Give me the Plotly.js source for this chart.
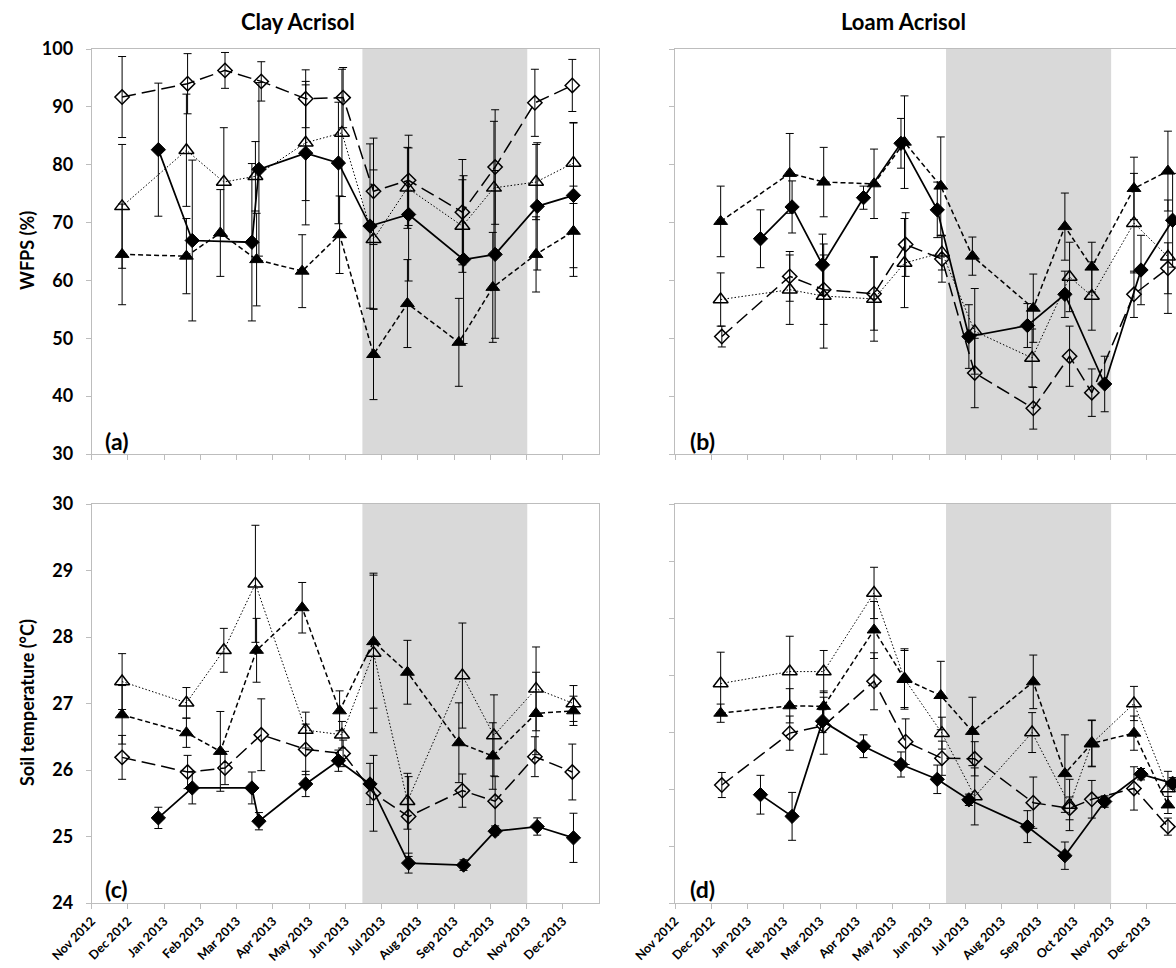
<!DOCTYPE html>
<html><head><meta charset="utf-8">
<script src="https://cdn.plot.ly/plotly-3.0.1.min.js"></script>
<style>html,body{margin:0;padding:0;background:#fff;overflow:hidden}#chart{width:1176px;height:968px}</style>
</head><body><div id="chart"></div>
<script>
// ---- axis ticks ----
const tickDates = ['2012-11-01','2012-12-02','2013-01-02','2013-02-02','2013-03-05','2013-04-05','2013-05-06','2013-06-06','2013-07-07','2013-08-07','2013-09-07','2013-10-08','2013-11-08','2013-12-09'];
const tickLabels = ['Nov 2012','Dec 2012','Jan 2013','Feb 2013','Mar 2013','Apr 2013','May 2013','Jun 2013','Jul 2013','Aug 2013','Sep 2013','Oct 2013','Nov 2013','Dec 2013'];
const shadeStart = '2013-06-20 12:00';
const shadeEnd = '2013-11-08 12:00';
const panelTitles = ['Clay Acrisol', 'Loam Acrisol'];
const panelLetters = ['(a)', '(b)', '(c)', '(d)'];
const yTitles = ['WFPS (%)', 'Soil temperature (°C)'];

// ---- Clay Acrisol sampling dates (per series) ----
const clayDatesS1 = ['2012-12-28','2013-01-26','2013-03-18','2013-03-24','2013-05-03','2013-05-31','2013-06-27','2013-07-30','2013-09-15','2013-10-12','2013-11-17','2013-12-18'];
const clayDatesS2 = ['2012-11-27','2013-01-21','2013-02-19','2013-03-22','2013-04-30','2013-06-01','2013-06-30','2013-07-29','2013-09-11','2013-10-10','2013-11-16','2013-12-18'];
const clayDatesS3 = ['2012-11-27','2013-01-21','2013-02-22','2013-03-21','2013-05-03','2013-06-03','2013-06-30','2013-07-29','2013-09-14','2013-10-11','2013-11-16','2013-12-18'];
const clayDatesS4 = ['2012-11-27','2013-01-22','2013-02-23','2013-03-26','2013-05-03','2013-06-04','2013-06-30','2013-07-30','2013-09-14','2013-10-12','2013-11-15','2013-12-17'];

// ---- Loam Acrisol sampling dates (per series) ----
const loamDatesS1 = ['2013-01-13','2013-02-09','2013-03-07','2013-04-11','2013-05-13','2013-06-13','2013-07-10','2013-08-29','2013-09-30','2013-11-03','2013-12-04','2013-12-31'];
const loamDatesS2 = ['2012-12-10','2013-02-07','2013-03-08','2013-04-20','2013-05-16','2013-06-16','2013-07-13','2013-09-03','2013-09-30','2013-10-23','2013-11-28','2013-12-27'];
const loamDatesS3 = ['2012-12-10','2013-02-07','2013-03-08','2013-04-20','2013-05-16','2013-06-17','2013-07-15','2013-09-02','2013-10-04','2013-10-23','2013-11-28','2013-12-27'];
const loamDatesS4 = ['2012-12-11','2013-02-07','2013-03-08','2013-04-20','2013-05-17','2013-06-17','2013-07-15','2013-09-03','2013-10-04','2013-10-23','2013-11-28','2013-12-27'];

// ---- (a) Clay Acrisol WFPS (%) ----
const clayWfpsS1 = [82.6, 66.9, 66.6, 79.2, 82.0, 80.3, 69.4, 71.4, 63.6, 64.5, 72.8, 74.7];
const clayWfpsS1Err = [11.5, 13.9, 13.6, 15.0, 12.4, 10.5, 14.2, 11.5, 14.5, 14.5, 11.0, 12.5];
const clayWfpsS2 = [64.5, 64.2, 68.2, 63.6, 61.6, 67.9, 47.2, 56.0, 49.3, 58.8, 64.5, 68.5];
const clayWfpsS2Err = [8.7, 6.5, 7.5, 8.0, 6.3, 6.7, 7.8, 7.6, 7.6, 9.5, 6.5, 7.8];
const clayWfpsS3 = [72.8, 82.5, 77.0, 78.0, 83.8, 85.5, 67.1, 76.0, 69.4, 76.0, 77.0, 80.3];
const clayWfpsS3Err = [10.7, 9.7, 9.4, 6.0, 10.0, 11.0, 12.0, 7.0, 8.0, 11.5, 6.5, 7.0];
const clayWfpsS4 = [91.7, 94.0, 96.3, 94.4, 91.4, 91.6, 75.4, 77.3, 71.8, 79.6, 90.7, 93.7];
const clayWfpsS4Err = [7.0, 5.2, 3.1, 3.4, 5.0, 5.2, 9.2, 7.8, 9.1, 9.9, 5.8, 4.5];

// ---- (b) Loam Acrisol WFPS (%) ----
const loamWfpsS1 = [67.2, 72.7, 62.7, 74.3, 83.7, 72.2, 50.3, 52.2, 57.6, 42.1, 61.8, 70.4];
const loamWfpsS1Err = [5.0, 4.5, 5.3, 2.0, 4.3, 4.8, 5.5, 3.8, 4.0, 4.8, 6.0, 8.1];
const loamWfpsS2 = [70.2, 78.5, 77.0, 76.7, 83.9, 76.3, 64.2, 55.2, 69.3, 62.3, 75.9, 78.9];
const loamWfpsS2Err = [6.1, 6.9, 6.0, 6.0, 8.0, 8.5, 3.3, 5.9, 5.8, 4.3, 5.4, 6.9];
const loamWfpsS3 = [56.7, 58.4, 57.3, 56.8, 63.0, 64.8, 51.2, 46.6, 60.6, 57.3, 69.9, 64.1];
const loamWfpsS3Err = [4.6, 6.0, 9.0, 7.3, 7.7, 3.0, 7.4, 5.0, 6.0, 5.9, 8.6, 9.8];
const loamWfpsS4 = [50.3, 60.7, 58.4, 57.7, 66.2, 63.7, 44.0, 37.9, 46.9, 40.6, 57.6, 62.1];
const loamWfpsS4Err = [1.8, 4.3, 6.0, 6.3, 5.5, 4.0, 6.0, 3.6, 5.2, 4.1, 4.0, 4.4];

// ---- (c) Clay Acrisol soil temperature (°C) ----
const clayTempS1 = [25.28, 25.73, 25.73, 25.23, 25.79, 26.14, 25.79, 24.60, 24.57, 25.08, 25.15, 24.98];
const clayTempS1Err = [0.16, 0.24, 0.24, 0.13, 0.19, 0.16, 0.31, 0.15, 0.08, 0.06, 0.13, 0.37];
const clayTempS2 = [26.83, 26.56, 26.28, 27.80, 28.44, 26.89, 27.93, 27.47, 26.41, 26.21, 26.85, 26.89];
const clayTempS2Err = [0.44, 0.22, 0.60, 0.48, 0.38, 0.30, 1.00, 0.48, 0.60, 0.50, 0.62, 0.22];
const clayTempS3 = [27.33, 27.01, 27.80, 28.80, 26.60, 26.53, 27.76, 25.53, 27.42, 26.52, 27.22, 27.00];
const clayTempS3Err = [0.42, 0.23, 0.33, 0.88, 0.27, 0.20, 1.20, 0.42, 0.79, 0.61, 0.63, 0.27];
const clayTempS4 = [26.19, 25.97, 26.03, 26.53, 26.31, 26.25, 25.65, 25.30, 25.69, 25.53, 26.20, 25.97];
const clayTempS4Err = [0.33, 0.25, 0.25, 0.54, 0.38, 0.20, 0.57, 0.60, 0.25, 0.37, 0.30, 0.42];

// ---- (d) Loam Acrisol soil temperature (°C) ----
const loamTempS1 = [25.90, 25.52, 27.19, 26.75, 26.43, 26.17, 25.81, 25.34, 24.83, 25.78, 26.26, 26.10];
const loamTempS1Err = [0.34, 0.42, 0.20, 0.20, 0.22, 0.25, 0.10, 0.28, 0.24, 0.10, 0.10, 0.10];
const loamTempS2 = [27.33, 27.46, 27.45, 28.79, 27.93, 27.64, 27.01, 27.88, 26.27, 26.80, 26.98, 25.72];
const loamTempS2Err = [0.16, 0.30, 0.27, 0.50, 0.53, 0.60, 0.60, 0.47, 0.68, 0.41, 0.30, 0.15];
const loamTempS3 = [27.85, 28.06, 28.06, 29.44, 27.93, 26.98, 25.87, 26.99, 25.72, 26.80, 27.50, 26.01];
const loamTempS3Err = [0.55, 0.62, 0.37, 0.45, 0.50, 0.28, 0.50, 0.35, 0.45, 0.40, 0.30, 0.30];
const loamTempS4 = [26.07, 26.98, 27.11, 27.89, 26.83, 26.54, 26.53, 25.76, 25.66, 25.82, 26.01, 25.34];
const loamTempS4Err = [0.22, 0.30, 0.50, 0.50, 0.40, 0.30, 0.30, 0.45, 0.20, 0.33, 0.38, 0.15];

// ---- styles ----
const FONT = 'Lato, "Open Sans", sans-serif';
const styles = {
  S1: {sym: 'diamond', size: 11, mlw: 1, lw: 1.75, dash: 'solid'},
  S2: {sym: 'triangle-up', size: 12, mlw: 1, lw: 1.5, dash: '5px,3px'},
  S3: {sym: 'triangle-up-open', size: 13, mlw: 1.5, lw: 1, dash: '1.5px,2px'},
  S4: {sym: 'diamond-open', size: 11, mlw: 1.5, lw: 1.5, dash: '14px,6px'}
};

function series(name, x, y, err, st, xa, ya) {
  return {
    type: 'scatter', mode: 'lines+markers', name: name, x: x, y: y,
    xaxis: xa, yaxis: ya, showlegend: false, cliponaxis: true,
    line: {color: '#000', width: st.lw, dash: st.dash},
    marker: {symbol: st.sym, size: st.size, color: '#000', line: {color: '#000', width: st.mlw}},
    error_y: {type: 'data', array: err, visible: true, color: '#000', thickness: 1, width: 4}
  };
}

const data = [
  series('S4', clayDatesS4, clayWfpsS4, clayWfpsS4Err, styles.S4, 'x', 'y'),
  series('S3', clayDatesS3, clayWfpsS3, clayWfpsS3Err, styles.S3, 'x', 'y'),
  series('S2', clayDatesS2, clayWfpsS2, clayWfpsS2Err, styles.S2, 'x', 'y'),
  series('S1', clayDatesS1, clayWfpsS1, clayWfpsS1Err, styles.S1, 'x', 'y'),
  series('S4', loamDatesS4, loamWfpsS4, loamWfpsS4Err, styles.S4, 'x2', 'y2'),
  series('S3', loamDatesS3, loamWfpsS3, loamWfpsS3Err, styles.S3, 'x2', 'y2'),
  series('S2', loamDatesS2, loamWfpsS2, loamWfpsS2Err, styles.S2, 'x2', 'y2'),
  series('S1', loamDatesS1, loamWfpsS1, loamWfpsS1Err, styles.S1, 'x2', 'y2'),
  series('S4', clayDatesS4, clayTempS4, clayTempS4Err, styles.S4, 'x3', 'y3'),
  series('S3', clayDatesS3, clayTempS3, clayTempS3Err, styles.S3, 'x3', 'y3'),
  series('S2', clayDatesS2, clayTempS2, clayTempS2Err, styles.S2, 'x3', 'y3'),
  series('S1', clayDatesS1, clayTempS1, clayTempS1Err, styles.S1, 'x3', 'y3'),
  series('S4', loamDatesS4, loamTempS4, loamTempS4Err, styles.S4, 'x4', 'y4'),
  series('S3', loamDatesS3, loamTempS3, loamTempS3Err, styles.S3, 'x4', 'y4'),
  series('S2', loamDatesS2, loamTempS2, loamTempS2Err, styles.S2, 'x4', 'y4'),
  series('S1', loamDatesS1, loamTempS1, loamTempS1Err, styles.S1, 'x4', 'y4')
];

const W = 1176, H = 968;
const LINE = '#bdbdbd';
const leftDom = [91.7 / W, 599.2 / W];
const rightDom = [675 / W, 1];
const topDom = [1 - 454 / H, 1 - 49 / H];
const botDom = [1 - 903 / H, 1 - 504 / H];
const leftRange = ['2012-11-01', '2014-01-09'];
const rightRange = ['2012-11-01', '2014-01-02 21:30'];

function xax(dom, range, anchor, labels, mirror) {
  return {
    type: 'date', domain: dom, range: range, anchor: anchor,
    tickmode: 'array', tickvals: tickDates, ticktext: tickLabels,
    showticklabels: labels, tickangle: -45,
    tickfont: {family: FONT, size: 12.5, color: '#000', weight: 700},
    ticks: 'outside', ticklen: 5, tickcolor: LINE, tickwidth: 1,
    showline: true, linecolor: LINE, linewidth: 1, mirror: mirror,
    showgrid: false, zeroline: false, fixedrange: true
  };
}
function yax(dom, range, dtick, anchor, labels, mirror) {
  return {
    domain: dom, range: range, dtick: dtick, tick0: range[0], anchor: anchor,
    showticklabels: labels,
    tickfont: {family: FONT, size: 18, color: '#000', weight: 700},
    ticklabelstandoff: 9,
    ticks: 'outside', ticklen: 5, tickcolor: LINE, tickwidth: 1,
    showline: true, linecolor: LINE, linewidth: 1, mirror: mirror,
    showgrid: false, zeroline: false, fixedrange: true
  };
}

function shade(xr, yr) {
  return {type: 'rect', xref: xr, yref: yr + ' domain', x0: shadeStart, x1: shadeEnd, y0: 0, y1: 1,
          fillcolor: '#d9d9d9', line: {width: 0}, layer: 'below'};
}

function ann(text, x, y, size, opts) {
  return Object.assign({text: text, x: x, y: y, xref: 'paper', yref: 'paper', showarrow: false,
    xanchor: 'center', yanchor: 'middle',
    font: {family: FONT, size: size, color: '#000', weight: 700}}, opts || {});
}

const layout = {
  width: W, height: H, margin: {l: 0, r: 0, t: 0, b: 0},
  paper_bgcolor: '#fff', plot_bgcolor: 'rgba(0,0,0,0)',
  showlegend: false,
  xaxis: xax(leftDom, leftRange, 'y', false, true),
  yaxis: yax(topDom, [30, 100], 10, 'x', true, true),
  xaxis2: xax(rightDom, rightRange, 'y2', false, true),
  yaxis2: yax(topDom, [30, 100], 10, 'x2', false, false),
  xaxis3: xax(leftDom, leftRange, 'y3', true, true),
  yaxis3: yax(botDom, [24, 30], 1, 'x3', true, true),
  xaxis4: xax(rightDom, rightRange, 'y4', true, true),
  yaxis4: yax(botDom, [24, 31], 1, 'x4', false, false),
  shapes: [shade('x', 'y'), shade('x2', 'y2'), shade('x3', 'y3'), shade('x4', 'y4')],
  annotations: [
    ann(panelTitles[0], 298 / W, 1 - 22 / H, 22),
    ann(panelTitles[1], 903 / W, 1 - 22 / H, 22),
    ann(panelLetters[0], 103 / W, 1 - 441 / H, 23, {xanchor: 'left'}),
    ann(panelLetters[1], 688 / W, 1 - 441 / H, 23, {xanchor: 'left'}),
    ann(panelLetters[2], 103 / W, 1 - 889 / H, 23, {xanchor: 'left'}),
    ann(panelLetters[3], 688 / W, 1 - 889 / H, 23, {xanchor: 'left'}),
    ann(yTitles[0], 27 / W, 1 - 251 / H, 18, {textangle: -90}),
    ann(yTitles[1], 27 / W, 1 - 703 / H, 18, {textangle: -90})
  ]
};

Plotly.newPlot('chart', data, layout, {staticPlot: true, displayModeBar: false});
</script></body></html>
